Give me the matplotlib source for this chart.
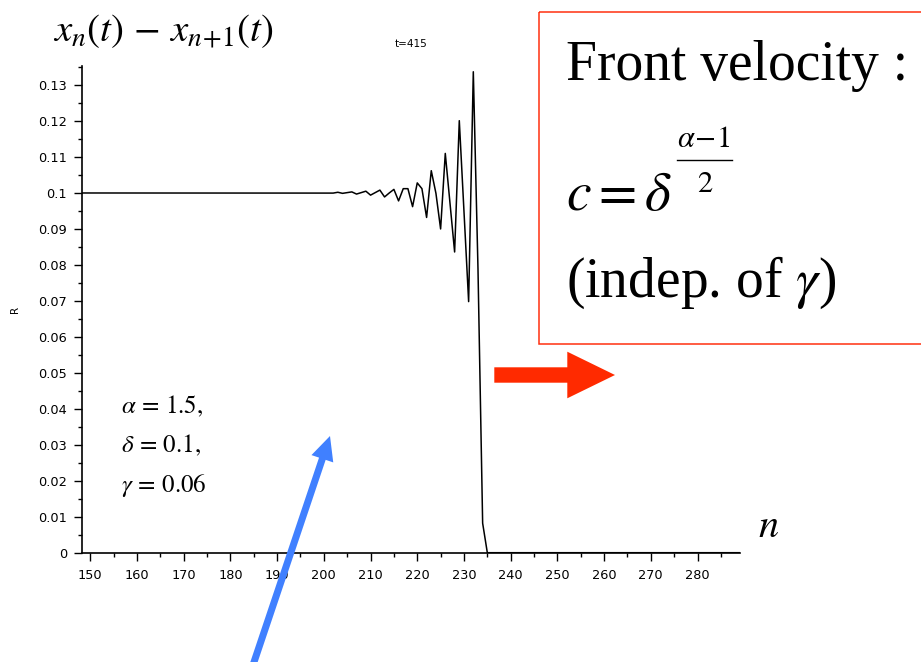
import numpy as np
import matplotlib
matplotlib.use('Agg')
import matplotlib.pyplot as plt
from matplotlib.patches import Rectangle, FancyArrow
from matplotlib.transforms import Affine2D
from matplotlib.ticker import MultipleLocator

plt.rcParams['mathtext.fontset'] = 'stix'
plt.rcParams['font.family'] = 'DejaVu Sans'

# lattice index n
n_before = list(range(148, 196))
n_front = list(range(196, 236))
n_after = list(range(236, 291))

# R = x_n - x_{n+1} at t=415
r_before = [0.1] * len(n_before)
r_front = [0.10000, 0.10001, 0.09999, 0.10002, 0.09998, 0.10003, 0.09997,  # 196-202
           0.10020, 0.09990, 0.10010, 0.10030, 0.09970, 0.10010, 0.10050,  # 203-209
           0.09940, 0.10010, 0.10080, 0.09890, 0.10000, 0.10100, 0.09780,  # 210-216
           0.10120, 0.10120, 0.09620, 0.10280, 0.10120, 0.09320, 0.10620,  # 217-223
           0.09990, 0.09000, 0.11100, 0.09730, 0.08360, 0.12010, 0.09500,  # 224-230
           0.06980, 0.13370, 0.07900, 0.00820, 0.00000]                    # 231-235
r_after = [0.0] * len(n_after)

n_vals = n_before + n_front + n_after
r_vals = r_before + r_front + r_after

params = [r'$\alpha \,=\, 1.5,$', r'$\delta \,=\, 0.1,$', r'$\gamma \,=\, 0.06$']

fig = plt.figure(figsize=(9.21, 6.62), dpi=100)
ax = fig.add_axes([0.0894, 0.1651, 0.7141, 0.7352])
ax.plot(n_vals, r_vals, color='black', lw=1.1)

ax.set_xlim(148.3, 289.1)
ax.set_ylim(0, 0.1353)
ax.xaxis.set_major_locator(MultipleLocator(10))
ax.xaxis.set_minor_locator(MultipleLocator(5))
ax.yaxis.set_major_locator(MultipleLocator(0.01))
ax.yaxis.set_minor_locator(MultipleLocator(0.005))
ax.set_yticks(np.arange(0, 0.131, 0.01))
ax.set_yticklabels(['0'] + ['%g' % v for v in np.arange(0.01, 0.131, 0.01)])
ax.set_xticks(range(150, 290, 10))
ax.tick_params(which='major', length=6, width=1, direction='out', labelsize=9.3)
ax.tick_params(which='minor', length=3.2, width=1, direction='out')
ax.tick_params(axis='x', pad=6)
ax.tick_params(axis='y', pad=5)
for s in ['top', 'right']:
    ax.spines[s].set_visible(False)
for s in ['left', 'bottom']:
    ax.spines[s].set_linewidth(1.2)

ax.set_title('t=415', fontsize=7.5, pad=14)
ax.set_ylabel('R', fontsize=7.5)
ax.yaxis.set_label_coords(-0.0947, 0.5)

# pixel coordinates from top-left corner
px = Affine2D().scale(1, -1).translate(0, 662).scale(1 / 100) + fig.dpi_scale_trans

fig.text(53, 41, r'$x_n(t) \,-\, x_{n\!+\!1}(t)$', transform=px, fontsize=28,
         ha='left', va='baseline')
fig.text(769, 537, r'$n$', transform=px, fontsize=29, ha='center', va='baseline')

for i, p in enumerate(params):
    fig.text(121, 413 + i * 39.5, p, transform=px, fontsize=18, ha='left', va='baseline')

# red box with front velocity
fig.add_artist(Rectangle((539.3, 12.3), 400, 332, transform=px, fill=False,
                         edgecolor='#ff3010', lw=1.1, clip_on=False))
fig.text(566, 80, 'Front velocity :', transform=px, fontsize=40,
         family='Liberation Serif', ha='left', va='baseline')
fig.text(566, 210, r'$c = \delta$', transform=px, fontsize=40, ha='left', va='baseline')
fig.text(704, 147, r'$\alpha\!-\!1$', transform=px, fontsize=22, ha='center', va='baseline')
fig.add_artist(plt.Line2D([677, 732], [160, 160], transform=px, color='black', lw=1.0))
fig.text(705, 192, r'$2$', transform=px, fontsize=22, ha='center', va='baseline')
fig.text(566, 297, r'(indep. of $\gamma$)', transform=px, fontsize=40,
         family='Liberation Serif', ha='left', va='baseline')

# arrows
fig.add_artist(FancyArrow(494.3, 375, 120.7, 0, width=15.4, head_width=46.6,
                          head_length=47.7, length_includes_head=True,
                          transform=px, color='#ff2a00', lw=0))
fig.add_artist(FancyArrow(252, 668, 78, -232, width=7, head_width=23,
                          head_length=24, length_includes_head=True,
                          transform=px, color='#4080ff', lw=0))

fig.savefig('out.png', dpi=100)
